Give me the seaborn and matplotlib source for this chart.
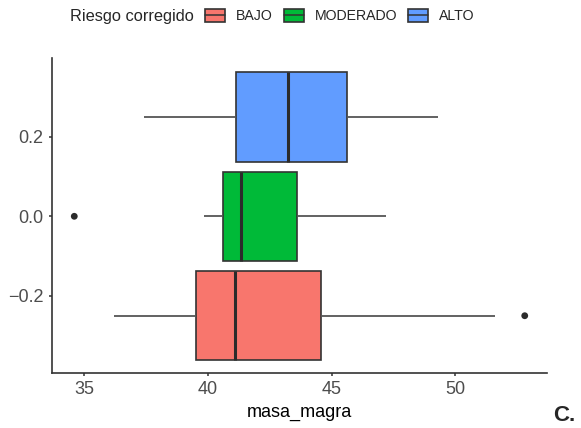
import matplotlib
matplotlib.use("Agg")
import matplotlib.pyplot as plt
from matplotlib.patches import Patch
from matplotlib.lines import Line2D
import seaborn as sns
import pandas as pd

# five-number summaries (min, q1, median, q3, max of whiskers)
riesgo = ["BAJO", "MODERADO", "ALTO"]
bajo = [36.2, 39.5, 41.1, 44.55, 51.6]
moderado = [39.85, 40.6, 41.35, 43.6, 47.2]
alto = [37.4, 41.15, 43.25, 45.6, 49.3]
# outliers
out_riesgo = ["BAJO", "MODERADO"]
out_masa = [52.8, 34.6]
out_pos = [-0.25, 0.0]

colores = {"BAJO": "#F8766D", "MODERADO": "#00BA38", "ALTO": "#619CFF"}

df = pd.DataFrame({
    "masa_magra": bajo + moderado + alto,
    "Riesgo corregido": [r for r, v in zip(riesgo, [bajo, moderado, alto]) for _ in v],
    "y": 0.0,
})

sns.set_style("white")
plt.rcParams["font.family"] = ["Liberation Sans", "DejaVu Sans"]

fig = plt.figure(figsize=(5.81, 4.28), dpi=100)
ax = fig.add_axes([0.0895, 0.1285, 0.852, 0.736])

sns.boxplot(data=df, x="masa_magra", y="y", hue="Riesgo corregido",
            hue_order=riesgo, palette=colores, saturation=1, orient="y",
            native_scale=True, dodge=True, width=0.75, gap=0.1, whis=(0, 100),
            fliersize=0, linecolor="#333333", linewidth=1.2,
            medianprops=dict(color="#2b2b2b", linewidth=2.2),
            whiskerprops=dict(color="#555555", linewidth=1.3),
            capprops=dict(linewidth=0), legend=False, ax=ax)
sns.scatterplot(x=out_masa, y=out_pos, color="#2b2b2b", s=24, edgecolor="none", ax=ax)

ax.set_xlim(33.7, 53.7)
ax.set_ylim(-0.394, 0.398)
ax.set_xticks([35, 40, 45, 50])
ax.set_yticks([-0.2, 0.0, 0.2])
ax.set_yticklabels(["\u22120.2", "0.0", "0.2"])
ax.set_xlabel("masa_magra", fontsize=13, color="black", labelpad=4)
ax.set_ylabel("")
for s in ["top", "right"]:
    ax.spines[s].set_visible(False)
for s in ["left", "bottom"]:
    ax.spines[s].set_color("#333333")
    ax.spines[s].set_linewidth(1.2)
ax.tick_params(axis="both", which="both", length=2.5, width=1.1, color="#333333",
               labelsize=13, labelcolor="#4D4D4D", direction="out", pad=3.5,
               left=True, bottom=True)

fig.text(70 / 581, 0.9626, "Riesgo corregido", fontsize=11.8, ha="left", va="center")
handles = [(Patch(facecolor=colores[r], edgecolor="#333333", linewidth=1.2),
            Line2D([], [], color="#333333", linewidth=1.1)) for r in riesgo]
fig.legend(handles=handles, labels=riesgo, loc="center left",
           bbox_to_anchor=(205 / 581, 0.9626), ncol=3,
           frameon=False, fontsize=10.2, handlelength=1.4, handleheight=1.0,
           handletextpad=0.78, columnspacing=0.78, borderaxespad=0, borderpad=0)

fig.text(0.952, 0.004, "C.", fontsize=16, fontweight="bold", ha="left", va="bottom")

fig.savefig("out.png", dpi=100)
